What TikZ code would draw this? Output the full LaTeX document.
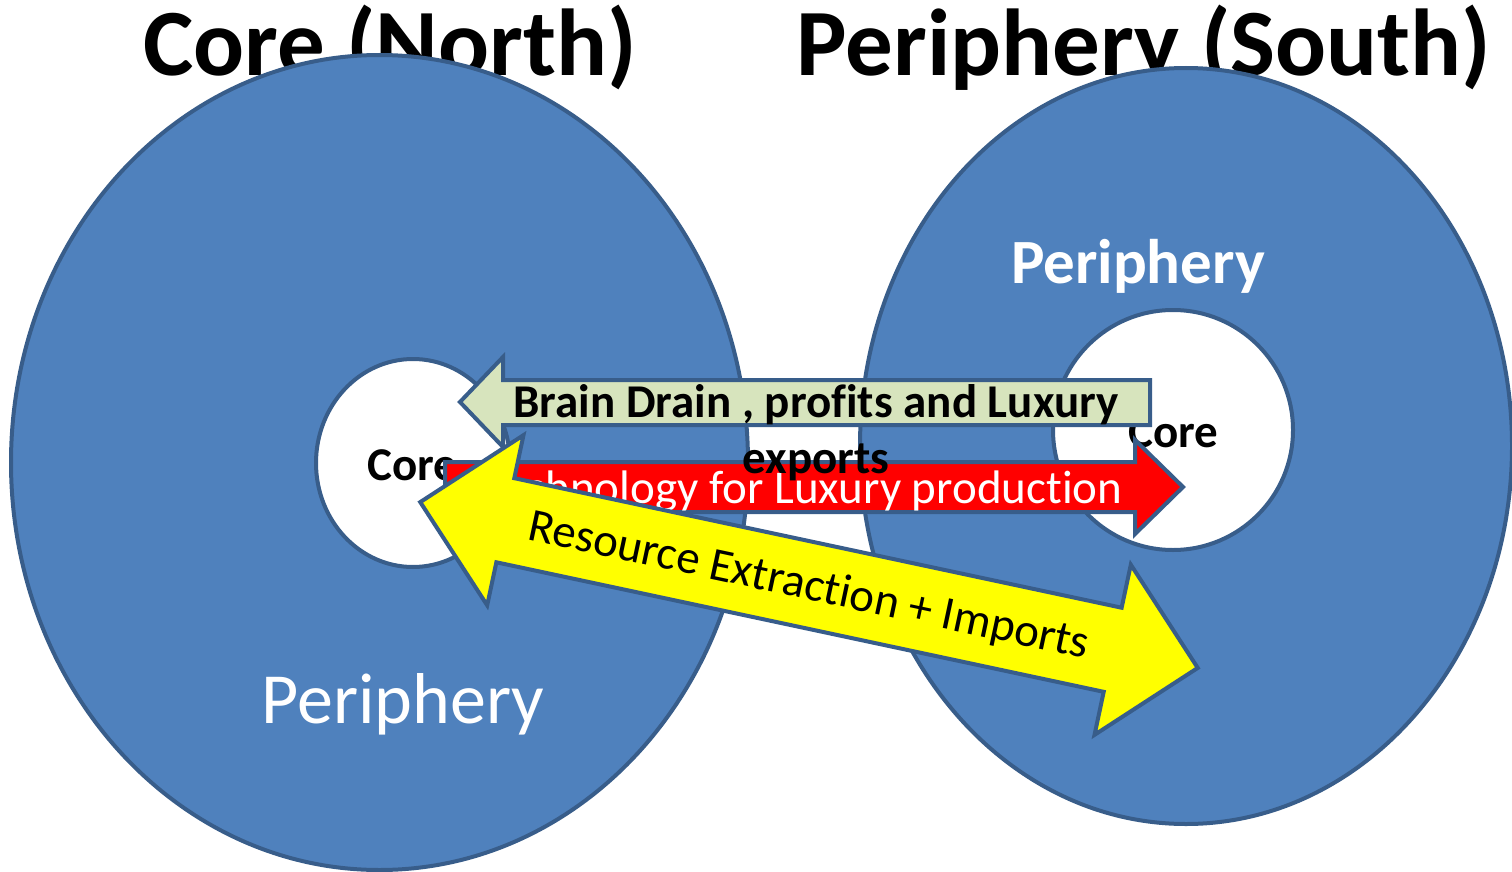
\documentclass[tikz,border=0pt]{standalone}
\usepackage{fontspec}
\setmainfont{Carlito}[Ligatures=NoCommon]
\usetikzlibrary{shapes.geometric}
\definecolor{zonefill}{HTML}{4F81BD}
\definecolor{rim}{HTML}{385D8A}
\definecolor{palegreen}{HTML}{D7E4BD}
\definecolor{flowred}{HTML}{FF0000}
\definecolor{flowyellow}{HTML}{FFFF00}
\tikzset{
  zone/.style={ellipse, inner sep=0pt, fill=zonefill, draw=rim, line width=4pt},
  hub/.style={ellipse, inner sep=0pt, fill=white, draw=rim, line width=4pt},
  blockarrow/.style={draw=rim, line width=4pt, line join=miter},
  heading/.style={inner sep=0pt, font=\fontsize{95}{114}\selectfont\bfseries},
  zonelabel/.style={inner sep=0pt, text=white},
  hublabel/.style={inner sep=0pt, font=\fontsize{47}{56}\selectfont\bfseries},
  flowtext/.style={inner sep=0pt, font=\fontsize{47}{56}\selectfont}
}
\begin{document}
\begin{tikzpicture}[x=1pt, y=-1pt]
\useasboundingbox (0,0) rectangle (1512,872);

% headings, partly hidden behind the zones
\node[heading, anchor=base] (tnorth) at (390,76) {Core (North)};
\node[heading, anchor=base] (tsouth) at (1144,76) {Periphery (South)};

% the two world zones
\node[zone, minimum width=737, minimum height=815] (north) at (379.5,462.5) {};
\node[zone, minimum width=652, minimum height=756] (south) at (1186,446) {};

% their cores
\node[hub, minimum width=194, minimum height=208] (ncorebox) at (413,463) {};
\node[hub, minimum width=240, minimum height=240] (scorebox) at (1173,430) {};

\node[zonelabel, font=\fontsize{72}{86}\selectfont, anchor=base] (nper) at (403,723) {Periphery};
\node[zonelabel, font=\fontsize{63}{76}\selectfont\bfseries, anchor=base] (sper) at (1138,283) {Periphery};
\node[hublabel, anchor=base west] (ncore) at (367,480) {Core};
\node[hublabel, anchor=base west] (score) at (1128,447) {Core};

% technology flowing south
\filldraw[blockarrow, fill=flowred]
  (445,462) -- (1135,462) -- (1135,440) -- (1183,487) -- (1135,534) -- (1135,512) -- (445,512) -- cycle;
\node[flowtext, text=white, anchor=base] (tech) at (803,503) {Technology for Luxury production};

% brain drain flowing north (base anchor sits on the second line)
\filldraw[blockarrow, fill=palegreen]
  (1150,380) -- (503,380) -- (503,357) -- (460,402) -- (503,447) -- (503,425) -- (1150,425) -- cycle;
\node[flowtext, font=\fontsize{47}{56}\selectfont\bfseries, align=center, anchor=base] (drain) at (816,473)
  {Brain Drain , profits and Luxury\\exports};

% two-way resource flow
\begin{scope}[shift={(809,585)}, rotate=-12.04]
\filldraw[blockarrow, fill=flowyellow]
  (-397.5,0) -- (-310.5,-87) -- (-310.5,-43) -- (310.5,-43) -- (310.5,-87) -- (397.5,0)
  -- (310.5,87) -- (310.5,43) -- (-310.5,43) -- (-310.5,87) -- cycle;
\node[flowtext, rotate=-12.04, anchor=center] (resource) at (0,2) {Resource Extraction + Imports};
\end{scope}
\end{tikzpicture}
\end{document}
